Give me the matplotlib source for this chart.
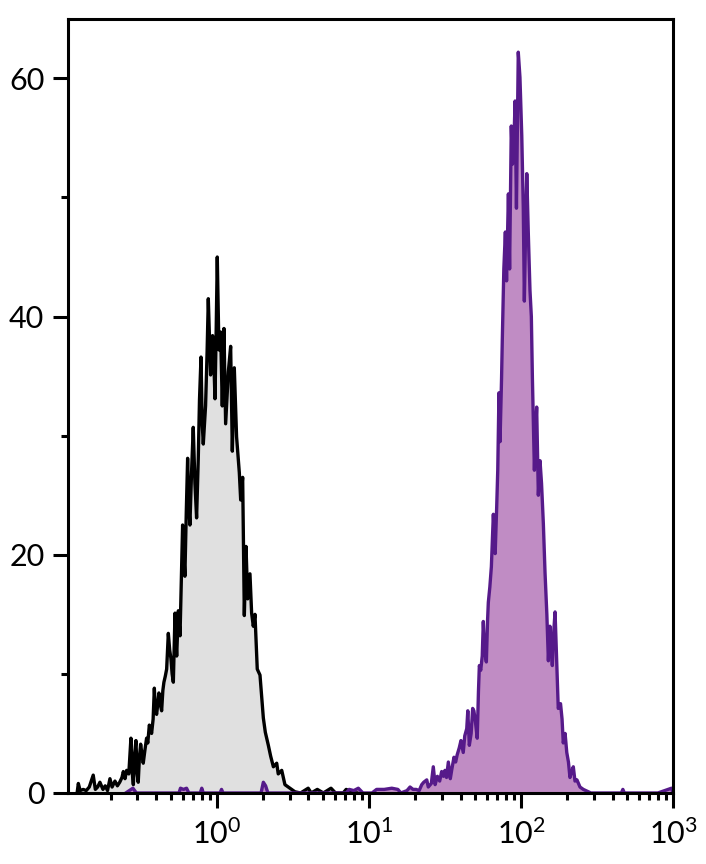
import numpy as np
import matplotlib
matplotlib.use('Agg')
import matplotlib.pyplot as plt
from matplotlib.ticker import FixedLocator, NullFormatter

plt.rcParams['font.family'] = ['Lato', 'DejaVu Sans']
plt.rcParams['mathtext.fontset'] = 'custom'
plt.rcParams['mathtext.rm'] = 'Lato'

# ── 데이터: 히스토그램 (x는 log10 채널 위치, y는 카운트) ─────────
# 음성 대조군 (회색)
grey_log_x = [
    -0.92, -0.912, -0.90, -0.88, -0.86, -0.84, -0.814, -0.80, -0.785, -0.77,
    -0.75, -0.735, -0.72, -0.704, -0.69, -0.671, -0.655, -0.64, -0.625, -0.616,
    -0.605, -0.594, -0.58, -0.566, -0.558, -0.550, -0.542, -0.533, -0.525, -0.518,
    -0.51, -0.502, -0.493, -0.485, -0.474, -0.463, -0.455, -0.445, -0.438, -0.430,
    -0.42, -0.412, -0.405, -0.397, -0.39, -0.382, -0.372, -0.364, -0.356, -0.349,
    -0.340, -0.331, -0.320, -0.311, -0.303, -0.295, -0.287, -0.276, -0.270, -0.265,
    -0.254, -0.243, -0.235, -0.226, -0.218, -0.211, -0.202, -0.193, -0.185, -0.178,
    -0.167, -0.156, -0.145, -0.134, -0.123, -0.115, -0.105, -0.097, -0.090, -0.075,
    -0.065, -0.057, -0.048, -0.042, -0.029, -0.020, -0.013, -0.005, 0.002, 0.013,
    0.024, 0.035, 0.046, 0.057, 0.075, 0.090, 0.101, 0.114, 0.129, 0.147,
    0.156, 0.169, 0.180, 0.191, 0.202, 0.217, 0.228, 0.239, 0.250, 0.265,
    0.283, 0.294, 0.305, 0.318, 0.338, 0.353, 0.371, 0.393, 0.403, 0.426,
    0.447, 0.480, 0.513, 0.55, 0.60, 0.62, 0.66, 0.70, 0.75, 0.78,
    0.83, 0.85, 0.90, 0.92,
]
grey_counts = [
    0.0, 0.8, 0.2, 0.3, 0.2, 0.5, 1.5, 0.3, 0.5, 0.9,
    0.3, 0.6, 0.2, 1.2, 0.5, 1.0, 0.6, 0.9, 1.3, 1.8,
    1.2, 1.9, 1.6, 4.6, 1.8, 0.7, 3.2, 4.4, 1.6, 0.9,
    3.0, 4.1, 3.2, 2.5, 3.6, 4.6, 4.2, 5.7, 5.4, 5.0,
    6.2, 8.8, 7.0, 6.6, 7.4, 8.4, 7.4, 6.9, 8.6, 9.3,
    9.8, 10.4, 13.4, 12.0, 11.3, 10.0, 9.3, 15.1, 12.8, 11.5,
    15.3, 13.2, 17.5, 22.5, 20.0, 18.2, 23.5, 28.1, 24.0, 22.5,
    27.0, 30.7, 26.0, 23.1, 28.1, 33.0, 36.6, 31.0, 29.3, 32.5,
    37.0, 41.5, 37.5, 35.1, 38.4, 36.0, 33.1, 39.0, 45.0, 37.2,
    38.7, 32.5, 39.0, 31.0, 35.4, 37.5, 28.7, 35.7, 29.9, 26.9,
    24.6, 26.5, 14.9, 20.7, 16.3, 18.4, 15.1, 14.0, 15.0, 10.4,
    9.9, 8.1, 6.3, 5.1, 4.0, 3.1, 2.2, 2.5, 1.6, 1.9,
    0.7, 0.4, 0.1, 0.0, 0.4, 0.0, 0.3, 0.0, 0.4, 0.0,
    0.0, 0.3, 0.0, 0.0,
]

# 염색 샘플 (보라)
purple_log_x = [
    -0.60, -0.553, -0.53, -0.25, -0.24, -0.22, -0.20, -0.185, -0.11, -0.10,
    -0.09, 0.02, 0.03, 0.04, 0.29, 0.305, 0.32, 0.335, 0.85, 0.87,
    0.90, 0.93, 0.96, 1.02, 1.05, 1.10, 1.15, 1.19, 1.21, 1.25,
    1.27, 1.29, 1.31, 1.33, 1.347, 1.36, 1.38, 1.39, 1.41, 1.423,
    1.435, 1.45, 1.465, 1.478, 1.49, 1.50, 1.51, 1.522, 1.535, 1.545,
    1.559, 1.57, 1.58, 1.594, 1.605, 1.62, 1.63, 1.643, 1.65, 1.66,
    1.672, 1.682, 1.69, 1.70, 1.712, 1.72, 1.726, 1.735, 1.745, 1.752,
    1.76, 1.772, 1.78, 1.785, 1.795, 1.805, 1.818, 1.83, 1.84, 1.847,
    1.855, 1.862, 1.872, 1.877, 1.887, 1.897, 1.905, 1.917, 1.925, 1.936,
    1.944, 1.952, 1.961, 1.97, 1.982, 1.993, 2.005, 2.015, 2.022, 2.03,
    2.038, 2.048, 2.059, 2.068, 2.075, 2.088, 2.095, 2.103, 2.114, 2.125,
    2.135, 2.147, 2.158, 2.17, 2.18, 2.19, 2.198, 2.206, 2.215, 2.224,
    2.235, 2.245, 2.26, 2.27, 2.278, 2.29, 2.301, 2.312, 2.322, 2.333,
    2.344, 2.355, 2.368, 2.388, 2.41, 2.443, 2.46, 2.66, 2.67, 2.68,
    2.9, 2.99, 3.0,
]
purple_counts = [
    0.0, 0.4, 0.0, 0.0, 0.4, 0.3, 0.4, 0.0, 0.0, 0.4,
    0.0, 0.0, 0.3, 0.0, 0.0, 0.9, 0.6, 0.0, 0.0, 0.3,
    0.2, 0.4, 0.0, 0.0, 0.3, 0.3, 0.4, 0.3, 0.0, 0.2,
    0.5, 0.3, 0.3, 0.2, 0.7, 0.9, 1.1, 0.5, 0.8, 2.2,
    0.7, 1.4, 1.0, 1.8, 1.4, 1.9, 1.3, 2.6, 1.2, 2.0,
    3.0, 2.6, 3.2, 3.8, 4.4, 3.4, 4.8, 5.4, 6.9, 4.0,
    5.0, 7.1, 6.9, 6.0, 4.6, 8.5, 10.7, 10.3, 11.5, 14.4,
    12.0, 11.0, 14.5, 16.0, 17.3, 19.0, 23.4, 20.1, 24.0, 27.1,
    33.6, 29.5, 34.8, 38.1, 44.0, 47.1, 43.0, 50.3, 44.0, 56.0,
    52.8, 54.0, 58.1, 49.1, 62.2, 60.1, 55.2, 49.1, 41.3, 47.0,
    52.0, 47.0, 42.2, 40.0, 34.8, 27.1, 30.0, 32.4, 25.0, 27.9,
    26.0, 22.6, 18.5, 15.0, 11.1, 14.0, 12.5, 10.7, 13.5, 15.2,
    11.0, 7.1, 7.5, 6.2, 4.2, 5.0, 3.4, 2.6, 1.3, 1.8,
    2.2, 1.0, 1.1, 0.5, 0.3, 0.1, 0.0, 0.0, 0.3, 0.0,
    0.0, 0.4, 0.0,
]

GREY_FILL   = "#e0e0e0"
PURPLE_FILL = "#c08cc4"
PURPLE_LINE = "#561a8a"

# ── 그리기 ──────────────────────────────────────────────
fig = plt.figure(figsize=(7.06, 8.64), dpi=100)
ax = fig.add_axes([0.0963, 0.0822, 0.857, 0.896])

gx = 10 ** np.array(grey_log_x)
px = 10 ** np.array(purple_log_x)

ax.fill_between(gx, grey_counts, 0, color=GREY_FILL, lw=0, zorder=1)
ax.fill_between(px, purple_counts, 0, color=PURPLE_FILL, lw=0, zorder=1)
ax.plot(gx, grey_counts, color="black", lw=2.4, zorder=2)
ax.plot(px, purple_counts, color=PURPLE_LINE, lw=2.4, zorder=2)

ax.set_xscale("log")
ax.set_xlim(10 ** -0.98, 1000)
ax.set_ylim(0, 65)

# 축 스타일
for s in ax.spines.values():
    s.set_linewidth(2.2)
    s.set_zorder(3)

ax.xaxis.set_major_locator(FixedLocator([1, 10, 100, 1000]))
ax.set_xticklabels([r"$\mathregular{10^{0}}$", r"$\mathregular{10^{1}}$",
                    r"$\mathregular{10^{2}}$", r"$\mathregular{10^{3}}$"])
minors = [m * 10.0 ** e for e in range(-1, 3) for m in range(2, 10)]
ax.xaxis.set_minor_locator(FixedLocator(minors))
ax.xaxis.set_minor_formatter(NullFormatter())

ax.set_yticks([0, 20, 40, 60])
ax.set_yticks([10, 30, 50], minor=True)

ax.tick_params(which="major", direction="out", length=11, width=2.2,
               labelsize=22, pad=6)
ax.tick_params(which="minor", direction="out", length=5, width=2.2)
ax.tick_params(axis="x", which="major", pad=7)

fig.savefig("out.png", dpi=100)
plt.close(fig)
